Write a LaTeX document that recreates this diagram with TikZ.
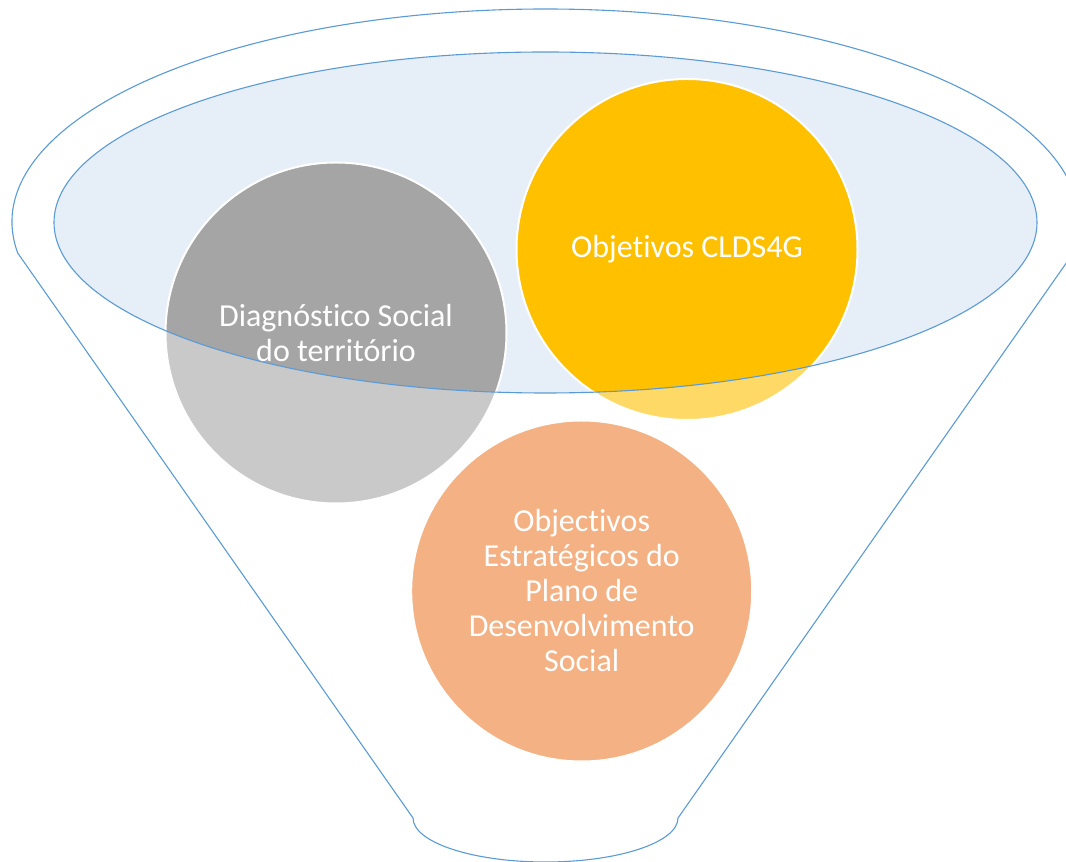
\documentclass[tikz,border=0pt]{standalone}
\usepackage{fontspec}
\setmainfont{Carlito}[Ligatures={NoCommon,NoRare}]
\definecolor{funnelblue}{HTML}{5B9BD5}
\definecolor{innerfill}{HTML}{E6EEF8}
\definecolor{diaggray}{HTML}{A5A5A5}
\definecolor{cldsyellow}{HTML}{FFC000}
\definecolor{planorange}{HTML}{ED7D31}
\begin{document}
\begin{tikzpicture}[x=1pt,y=1pt,
  circ/.style={circle, draw=white, line width=2pt, minimum size=341pt, inner sep=0pt,
    text=white, align=center, font=\fontsize{32}{35}\selectfont},
  edge/.style={draw=funnelblue, line width=1.1pt}]
\useasboundingbox (0,0) rectangle (1066,862);
\clip (0,0) rectangle (1066,862);
% inner ellipse fill
\fill[innerfill] (545.5,639.5) ellipse [x radius=491.5pt, y radius=170.5pt];
% circles
\node[circ, fill=diaggray] (diag) at (336,529) {Diagnóstico Social\\do território};
\node[circ, fill=cldsyellow] (clds) at (687,612.5) {Objetivos CLDS4G};
\node[circ, fill=planorange] (plano) at (581.7,271) {Objectivos\\Estratégicos do\\Plano de\\Desenvolvimento\\Social};
% funnel body overlay (white, semi-transparent, hole for inner ellipse)
\fill[white, fill opacity=0.4, even odd rule]
  (17.7,609) arc[start angle=188.37, end angle=-8.37, x radius=533.5pt, y radius=213pt]
  -- (678,44) arc[start angle=0, end angle=-180, x radius=132.5pt, y radius=44pt] -- cycle
  (545.5,639.5) ellipse [x radius=491.5pt, y radius=170.5pt];
% outlines
\draw[edge]
  (17.7,609) arc[start angle=188.37, end angle=-8.37, x radius=533.5pt, y radius=213pt]
  -- (678,44) arc[start angle=0, end angle=-180, x radius=132.5pt, y radius=44pt] -- cycle;
\draw[edge] (545.5,639.5) ellipse [x radius=491.5pt, y radius=170.5pt];
\end{tikzpicture}
\end{document}
